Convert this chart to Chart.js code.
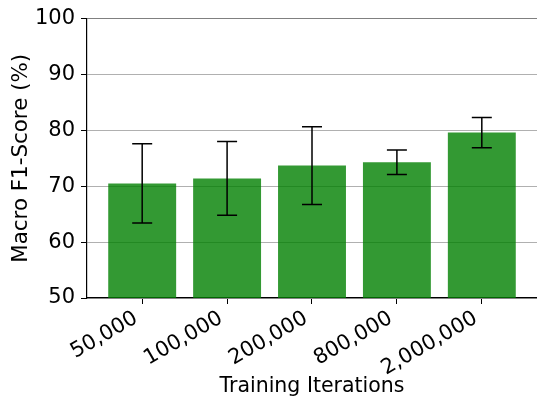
<!DOCTYPE html>
<html>
<head>
<meta charset="utf-8">
<script src="https://cdn.jsdelivr.net/npm/chart.js@4/dist/chart.umd.min.js"></script>
<style>
  html, body { margin: 0; padding: 0; background: #ffffff; }
  #wrap { width: 537px; height: 402px; position: relative; }
</style>
</head>
<body>
<div id="wrap"><canvas id="chart" width="537" height="402"></canvas></div>
<script>
// Training-iteration budgets and the resulting macro F1 (mean ± std, %)
const iterationLabels = ['50,000', '100,000', '200,000', '800,000', '2,000,000'];
const meanF1 = [70.5, 71.4, 73.7, 74.3, 79.6];
const stdF1 = [7.1, 6.6, 6.95, 2.2, 2.7];
const yTicks = [50, 60, 70, 80, 90, 100];

const FONT = 'DejaVu Sans';

// Draws a vertical error bar with caps over each bar
const errorBars = {
  id: 'errorBars',
  afterDatasetsDraw(chart) {
    const { ctx, scales: { x, y } } = chart;
    const cap = 10;
    ctx.save();
    ctx.strokeStyle = '#000000';
    ctx.lineWidth = 1.5;
    meanF1.forEach((m, i) => {
      const px = x.getPixelForValue(i);
      const top = y.getPixelForValue(m + stdF1[i]);
      const bot = y.getPixelForValue(m - stdF1[i]);
      ctx.beginPath();
      ctx.moveTo(px, top); ctx.lineTo(px, bot);
      ctx.moveTo(px - cap, top); ctx.lineTo(px + cap, top);
      ctx.moveTo(px - cap, bot); ctx.lineTo(px + cap, bot);
      ctx.stroke();
    });
    ctx.restore();
  }
};

new Chart(document.getElementById('chart'), {
  type: 'bar',
  data: {
    datasets: [{
      data: meanF1.map((v, i) => ({ x: i, y: v })),
      backgroundColor: 'rgba(0,128,0,0.8)',
      borderWidth: 0,
      barPercentage: 0.8,
      categoryPercentage: 1.0
    }]
  },
  options: {
    responsive: false,
    animation: false,
    layout: { padding: { top: 16, right: 0, bottom: 0, left: 0 } },
    plugins: { legend: { display: false }, tooltip: { enabled: false } },
    scales: {
      x: {
        type: 'linear',
        offset: false,
        bounds: 'data',
        min: -0.65,
        max: 4.65,
        afterBuildTicks(scale) {
          scale.ticks = iterationLabels.map((_, i) => ({ value: i }));
        },
        afterFit(scale) { scale.height = 104; scale.paddingLeft = 0; scale.paddingRight = 0; },
        ticks: {
          callback: (v) => iterationLabels[v],
          minRotation: 30,
          maxRotation: 30,
          autoSkip: false,
          color: '#000000',
          font: { family: FONT, size: 21 },
          padding: 2,
          labelOffset: -6
        },
        grid: { offset: false, drawOnChartArea: false, tickLength: 6, tickColor: '#000000', tickWidth: 1 },
        border: { color: '#000000', width: 1.2 },
        title: {
          display: true,
          text: 'Training Iterations',
          color: '#000000',
          font: { family: FONT, size: 20.5 },
          padding: { top: 4, bottom: 3 }
        }
      },
      y: {
        min: 50,
        max: 100,
        afterBuildTicks(scale) {
          scale.ticks = yTicks.map(v => ({ value: v }));
        },
        afterFit(scale) { scale.width = 87; },
        ticks: {
          color: '#000000',
          font: { family: FONT, size: 21 },
          padding: 6
        },
        grid: {
          color: (c) => c.tick && c.tick.value === 100 ? '#808080' : '#b0b0b0',
          lineWidth: 1,
          tickLength: 6,
          tickColor: '#000000'
        },
        border: { color: '#000000', width: 1.2 },
        title: {
          display: true,
          text: 'Macro F1-Score (%)',
          color: '#000000',
          font: { family: FONT, size: 21.4 },
          padding: { top: 9, bottom: 4 }
        }
      }
    }
  },
  plugins: [errorBars]
});
</script>
</body>
</html>
